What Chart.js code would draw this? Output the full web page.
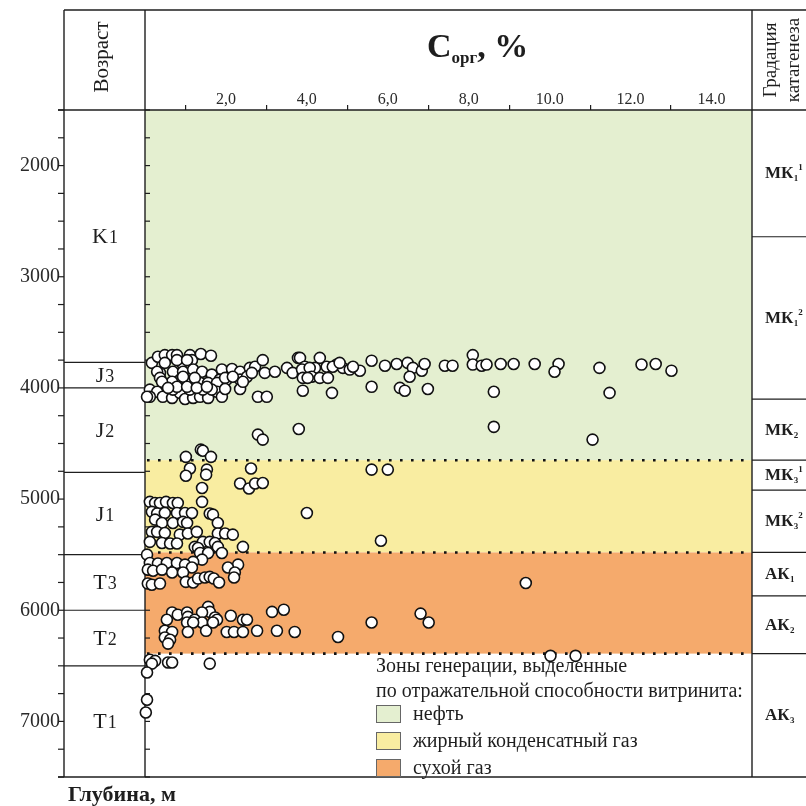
<!DOCTYPE html>
<html><head><meta charset="utf-8">
<script src="https://cdn.jsdelivr.net/npm/chart.js@4"></script>
<style>html,body{margin:0;padding:0;background:#fff}</style>
</head><body>
<canvas id="c" width="806" height="806"></canvas>
<script>
// ---------- DATA ----------
const depthRange = [1500, 7500];
const corgRange = [0, 15];
const yTickValues = [1500,1750,2000,2250,2500,2750,3000,3250,3500,3750,4000,4250,4500,4750,5000,5250,5500,5750,6000,6250,6500,6750,7000,7250,7500];
const yLabelValues = [2000,3000,4000,5000,6000,7000];
const xTickValues = [1,2,3,4,5,6,7,8,9,10,11,12,13,14];
const xLabelValues = [2,4,6,8,10,12,14];
const xLabelTexts = ['2,0','4,0','6,0','8,0','10.0','12.0','14.0'];

const ageNames = ['K','J','J','J','T','T','T'];
const ageIndex = ['1','3','2','1','3','2','1'];
const ageBounds = [1500,3770,4000,4760,5500,6000,6500,7500];

const zoneBounds = [1500,4650,5480,6390];
const zoneColors = ['#e4efd0','#f9eda1','#f5aa6c'];
const zoneNames = ['нефть','жирный конденсатный газ','сухой газ'];

const cataBounds = [1500,2640,4100,4650,4920,5480,5870,6390,7500];
const cataNames = ['МК','МК','МК','МК','МК','АК','АК','АК'];
const cataSub = ['1','1','2','3','3','1','2','3'];
const cataSup = ['1','2','','1','2','','',''];

// samples: [C_org %, depth m]
const band3700 = [[0.17,3775],[0.32,3720],[0.49,3705],[0.67,3705],[0.79,3705],[0.91,3775],[0.49,3775],[1.11,3705],[1.16,3750],[1.38,3695],[1.63,3710],[0.79,3750],[1.04,3750],
[0.37,3865],[0.30,3855],[0.69,3855],[0.94,3855],[1.19,3835],[1.41,3855],[1.65,3880],[1.90,3835],[2.15,3830],[2.35,3855],[2.59,3820],[2.72,3810],[2.91,3750],[2.96,3865],[3.21,3855],[3.51,3820],[3.78,3730],[3.65,3865],[3.90,3880],
[0.37,3910],[0.86,3955],[1.11,3945],[1.36,3955],[1.56,3955],[1.85,3925],[2.02,3925],[2.35,3925],[2.52,3900],[2.64,3865],[0.94,3900],[1.23,3910],[0.67,3945],[0.42,3945],[1.78,3955],[1.98,3910],[2.17,3900],
[0.12,4015],[0.30,4035],[0.12,4080],[0.44,4080],[0.67,4090],[0.86,4045],[0.99,4100],[1.19,4090],[1.36,4080],[1.56,4090],[1.78,4035],[1.90,4080],[1.98,4010],[2.35,4010],[2.42,3945],[2.79,4080],[3.01,4080],[3.90,4025],[0.69,4015],[1.11,4015],[1.43,4015],[1.65,4015],[0.79,3990],[1.04,3990],[1.28,4000],[1.53,3990],[0.57,4000],[0.05,4080]];
const band3800 = [[3.83,3730],[4.32,3730],[3.95,3810],[4.20,3820],[4.49,3810],[4.74,3790],[4.89,3820],[5.06,3835],[5.31,3845],[3.88,3835],[4.07,3820],[4.64,3810],[4.81,3775],[5.14,3810],
[3.90,3910],[4.12,3900],[4.32,3910],[4.52,3910],[4.02,3910],
[5.60,3755],[5.93,3800],[6.22,3785],[6.49,3775],[6.62,3820],[6.84,3845],[6.91,3785],[6.54,3900],[7.41,3800],[7.60,3800],[8.10,3705],[8.10,3790],[8.32,3800],[8.44,3790],[8.79,3785],[9.11,3785],[9.63,3785],[10.22,3785],[10.12,3855],[11.23,3820],[12.27,3790],[12.62,3785],[13.01,3845],
[4.62,4045],[5.60,3990],[6.30,4000],[6.42,4025],[6.99,4010],[8.62,4035],[11.48,4045]];
const band4400 = [[8.62,4350],[11.06,4465],[2.79,4420],[2.91,4465],[3.80,4370],[1.38,4555],[1.43,4565],[1.01,4620],[1.63,4620]];
const band5000 = [[1.11,4725],[1.01,4790],[1.53,4735],[1.51,4780],[1.41,4900],[1.41,5025],[2.62,4725],[2.35,4860],[2.57,4905],[2.72,4860],[2.91,4855],[5.60,4735],[6.00,4735],[4.00,5125],[5.83,5375],
[0.12,5025],[0.25,5035],[0.37,5035],[0.52,5025],[0.69,5035],[0.81,5035],[0.17,5115],[0.30,5130],[0.49,5125],[0.79,5125],[0.99,5125],[1.16,5125],[1.60,5130],[1.68,5140],[0.25,5185],[0.42,5215],[0.69,5215],[0.94,5205],[1.04,5215],[1.80,5215],[0.17,5295],[0.30,5295],[0.49,5305],[0.86,5320],[1.06,5310],[1.28,5295],[1.80,5310],[1.98,5310],[2.17,5320],[0.12,5385],[0.42,5395],[0.62,5400],[0.79,5400],[1.23,5430],[1.43,5385],[1.60,5385],[1.73,5395],[1.80,5430],[1.31,5440],[2.42,5430]];
const band5600 = [[0.05,5500],[1.36,5485],[1.56,5485],[1.90,5485],[1.41,5545],[1.19,5565],[0.12,5575],[0.32,5580],[0.54,5575],[0.79,5575],[0.99,5590],[1.16,5615],[0.07,5635],[0.20,5645],[0.42,5635],[0.67,5660],[0.94,5660],[2.30,5590],[2.05,5615],[2.22,5660],[0.07,5760],[0.17,5770],[0.37,5760],[1.01,5745],[1.19,5750],[1.31,5715],[1.48,5705],[1.60,5700],[1.70,5715],[1.83,5750],[2.20,5705],[9.41,5755]];
const band6100 = [[1.56,5970],[1.60,6015],[0.67,6020],[0.81,6040],[1.04,6020],[1.06,6060],[1.41,6020],[0.54,6085],[1.23,6085],[1.41,6110],[1.73,6065],[1.78,6085],[2.12,6050],[2.42,6085],[2.52,6085],[3.14,6015],[3.43,5995],[1.04,6110],[1.19,6110],[0.49,6185],[0.67,6195],[1.06,6195],[1.51,6185],[1.68,6110],[2.02,6195],[2.20,6195],[2.42,6195],[2.77,6185],[3.26,6185],[3.70,6195],[4.77,6240],[5.60,6110],[6.81,6030],[7.01,6110],[0.49,6245],[0.62,6265],[0.57,6300],[10.02,6410],[10.64,6410]];
const band6500 = [[0.12,6445],[0.25,6455],[0.17,6480],[0.57,6470],[0.67,6470],[1.60,6480],[0.05,6560],[0.05,6805],[0.02,6920]];

// ---------- CHART ----------
const SERIF = '"Liberation Serif","Times New Roman",serif';
const INK = '#1e1e1e';
const allSamples = [].concat(band3700, band3800, band4400, band5000, band5600, band6100, band6500);

function txt(ctx, s, x, y, font, align, base) {
  ctx.font = font; ctx.textAlign = align || 'left'; ctx.textBaseline = base || 'alphabetic';
  ctx.fillStyle = INK; ctx.fillText(s, x, y);
}
function line(ctx, x1, y1, x2, y2) { ctx.beginPath(); ctx.moveTo(x1, y1); ctx.lineTo(x2, y2); ctx.stroke(); }

const decor = {
  id: 'decor',
  beforeDatasetsDraw(chart) {
    const { ctx, chartArea: a, scales: { x, y } } = chart;
    const Y = v => y.getPixelForValue(v);
    const colL = 64, topY = 10, W = chart.width;
    ctx.save();
    // zones
    for (let i = 0; i < zoneColors.length; i++) {
      ctx.fillStyle = zoneColors[i];
      ctx.fillRect(a.left, Y(zoneBounds[i]), a.right - a.left, Y(zoneBounds[i + 1]) - Y(zoneBounds[i]));
    }
    // dotted zone borders
    ctx.strokeStyle = '#111'; ctx.lineWidth = 2.6; ctx.setLineDash([2.6, 8.4]);
    for (let i = 1; i < zoneBounds.length; i++) line(ctx, a.left + 2, Y(zoneBounds[i]), a.right, Y(zoneBounds[i]));
    ctx.setLineDash([]);
    // frame
    ctx.strokeStyle = INK; ctx.lineWidth = 1.4;
    line(ctx, colL, topY, W, topY);
    line(ctx, colL - 6, a.top, W, a.top);
    line(ctx, colL - 6, a.bottom, W, a.bottom);
    line(ctx, colL, topY, colL, a.bottom);
    line(ctx, a.left, topY, a.left, a.bottom);
    line(ctx, a.right, topY, a.right, a.bottom);
    // depth ticks
    ctx.lineWidth = 1.2;
    yTickValues.forEach(v => { line(ctx, colL - 6, Y(v), colL, Y(v)); line(ctx, a.left, Y(v), a.left + 5, Y(v)); });
    // age column
    for (let i = 1; i < ageBounds.length - 1; i++) line(ctx, colL, Y(ageBounds[i]), a.left, Y(ageBounds[i]));
    const ageCx = (colL + a.left) / 2;
    for (let i = 0; i < ageNames.length; i++) {
      const cy = (Y(ageBounds[i]) + Y(ageBounds[i + 1])) / 2 + 7;
      ctx.font = '22px ' + SERIF; const w1 = ctx.measureText(ageNames[i]).width;
      ctx.font = '18px ' + SERIF; const w2 = ctx.measureText(ageIndex[i]).width;
      const x0 = ageCx - (w1 + w2) / 2;
      txt(ctx, ageNames[i], x0, cy, '22px ' + SERIF);
      txt(ctx, ageIndex[i], x0 + w1 + 1, cy, '18px ' + SERIF);
    }
    // catagenesis column
    for (let i = 1; i < cataBounds.length - 1; i++) line(ctx, a.right, Y(cataBounds[i]), W, Y(cataBounds[i]));
    for (let i = 0; i < cataNames.length; i++) {
      const cy = (Y(cataBounds[i]) + Y(cataBounds[i + 1])) / 2 + 5;
      const x0 = a.right + 13;
      txt(ctx, cataNames[i], x0, cy, 'bold 17px ' + SERIF);
      ctx.font = 'bold 17px ' + SERIF; const w = ctx.measureText(cataNames[i]).width;
      txt(ctx, cataSub[i], x0 + w + 0.5, cy + 3, 'bold 9px ' + SERIF);
      if (cataSup[i]) txt(ctx, cataSup[i], x0 + w + 5, cy - 8, 'bold 9px ' + SERIF);
    }
    // header texts
    ctx.save(); ctx.translate(ageCx - 2, 57); ctx.rotate(-Math.PI / 2);
    txt(ctx, 'Возраст', 0, 0, '21px ' + SERIF, 'center', 'middle'); ctx.restore();
    ctx.save(); ctx.translate(771, 60); ctx.rotate(-Math.PI / 2);
    txt(ctx, 'Градация', 0, 0, '19px ' + SERIF, 'center', 'middle'); ctx.restore();
    ctx.save(); ctx.translate(794, 60); ctx.rotate(-Math.PI / 2);
    txt(ctx, 'катагенеза', 0, 0, '19px ' + SERIF, 'center', 'middle'); ctx.restore();
    // title C_org, %
    let tx = 427;
    txt(ctx, 'C', tx, 57, 'bold 34px ' + SERIF); ctx.font = 'bold 34px ' + SERIF; tx += ctx.measureText('C').width;
    txt(ctx, 'орг', tx, 63, 'bold 17px ' + SERIF); ctx.font = 'bold 17px ' + SERIF; tx += ctx.measureText('орг').width;
    txt(ctx, ', %', tx, 57, 'bold 34px ' + SERIF);
    // depth caption
    txt(ctx, 'Глубина, м', 68, 801, 'bold 22px ' + SERIF);
    // legend
    txt(ctx, 'Зоны генерации, выделенные', 376, 672, '20px ' + SERIF);
    txt(ctx, 'по отражательной способности витринита:', 376, 697, '20px ' + SERIF);
    for (let i = 0; i < zoneNames.length; i++) {
      const by = 705 + i * 27;
      ctx.fillStyle = zoneColors[i]; ctx.fillRect(376, by, 24, 17);
      ctx.strokeStyle = '#666'; ctx.lineWidth = 1; ctx.strokeRect(376.5, by + 0.5, 24, 17);
      txt(ctx, zoneNames[i], 413, by + 15, '20px ' + SERIF);
    }
    ctx.restore();
  }
};

new Chart(document.getElementById('c'), {
  type: 'scatter',
  data: { datasets: [{
    data: allSamples.map(p => ({ x: p[0], y: p[1] })),
    pointRadius: 5.5, pointHoverRadius: 5.5,
    pointBackgroundColor: '#ffffff', pointBorderColor: '#111', pointBorderWidth: 1.6,
    clip: false
  }]},
  options: {
    responsive: false, animation: false,
    layout: { padding: { left: 0, top: 0, right: 54, bottom: 29 } },
    plugins: { legend: { display: false }, tooltip: { enabled: false } },
    scales: {
      x: {
        type: 'linear', position: 'top', min: corgRange[0], max: corgRange[1],
        afterFit: s => { s.height = 110; s.paddingLeft = 0; s.paddingRight = 0; },
        afterBuildTicks: s => { s.ticks = xTickValues.map(v => ({ value: v })); },
        grid: { drawOnChartArea: false, drawTicks: true, tickLength: 5, lineWidth: 1.2,
          color: c => (c.tick && Math.round(c.tick.value) % 2 === 1) ? INK : 'rgba(0,0,0,0)' },
        border: { display: false },
        ticks: { autoSkip: false, maxRotation: 0, padding: -4, color: '#2a2a2a',
          font: { family: SERIF, size: 16 },
          callback: v => { const i = xLabelValues.indexOf(Math.round(v)); return i >= 0 ? xLabelTexts[i] : ''; } }
      },
      y: {
        type: 'linear', position: 'left', reverse: true, min: depthRange[0], max: depthRange[1],
        afterFit: s => { s.width = 145; s.paddingTop = 0; s.paddingBottom = 0; },
        afterBuildTicks: s => { s.ticks = yTickValues.map(v => ({ value: v })); },
        grid: { drawOnChartArea: false, drawTicks: true, tickLength: 85, tickColor: 'rgba(0,0,0,0)' },
        border: { display: false },
        ticks: { autoSkip: false, padding: 0, color: '#2a2a2a',
          font: { family: SERIF, size: 20 },
          callback: v => yLabelValues.includes(v) ? String(v) : '' }
      }
    }
  },
  plugins: [decor]
});
</script>
</body></html>
